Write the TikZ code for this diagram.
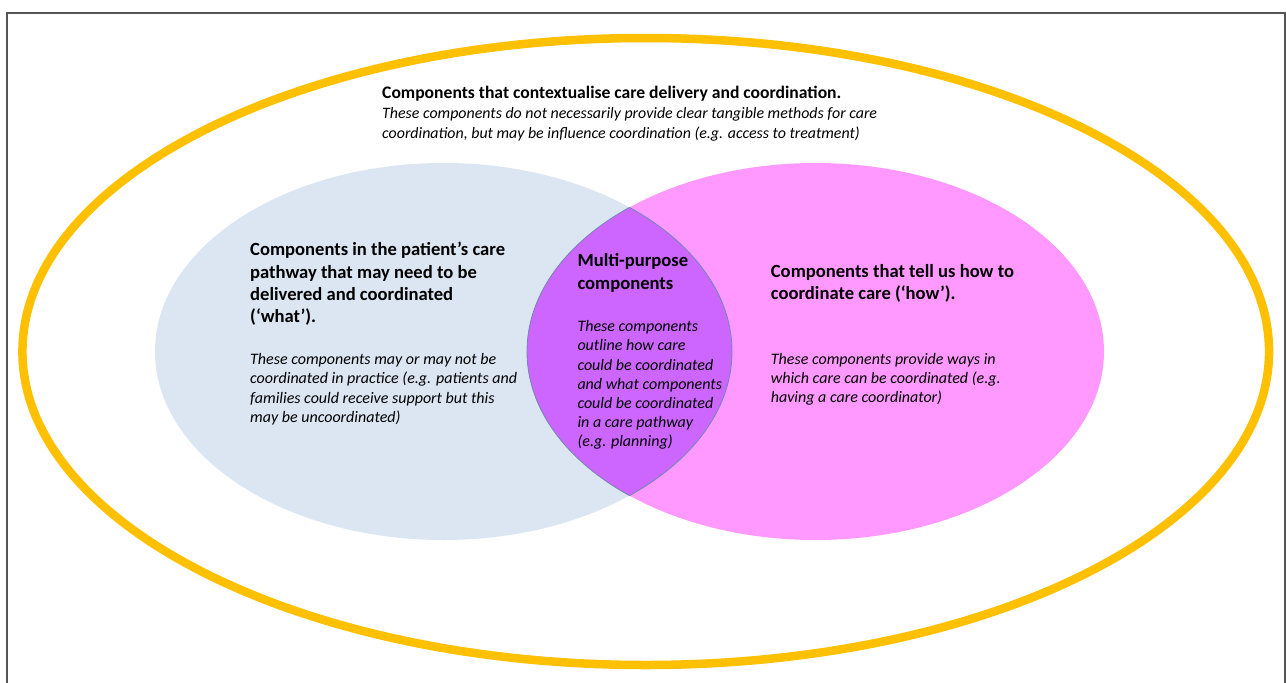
\documentclass[tikz,border=0pt]{standalone}
\usepackage{fontspec}
\setmainfont{Carlito}
\definecolor{ringyellow}{HTML}{FFC000}
\definecolor{whatblue}{HTML}{DCE6F2}
\definecolor{howpink}{HTML}{FF99FF}
\definecolor{lenspurple}{HTML}{CC66FF}
\definecolor{lensline}{HTML}{7088B0}
\definecolor{framegray}{HTML}{555555}
\tikzset{
  % anchor=base west: for a multi-line node this is the baseline of its LAST line
  headtext/.style={font=\bfseries\fontsize{18.6}{22.3}\selectfont, align=left, anchor=base west, inner sep=0pt},
  bodytext/.style={font=\itshape\fontsize{16}{19.4}\selectfont, align=left, anchor=base west, inner sep=0pt},
}
\begin{document}
\begin{tikzpicture}[x=1pt,y=-1pt]
\useasboundingbox (0,0) rectangle (1286,683);
\clip (0,0) rectangle (1286,683);
\fill[white] (0,0) rectangle (1286,683);
% frame
\draw[framegray, line width=1.5pt] (7,700) -- (7,13) -- (1285,13) -- (1285,700);
% outer ring
\draw[ringyellow, line width=8.5pt] (645.75,351.5) ellipse [x radius=623.3, y radius=313.5];
% two sets
\fill[whatblue] (443.5,351.5) ellipse [x radius=288.5, y radius=188.5];
\fill[howpink] (815.5,351.5) ellipse [x radius=288.5, y radius=188.5];
\begin{scope}
  \clip (443.5,351.5) ellipse [x radius=288.5, y radius=188.5];
  \fill[lenspurple] (815.5,351.5) ellipse [x radius=288.5, y radius=188.5];
  \draw[lensline, line width=0.8pt] (815.5,351.5) ellipse [x radius=288.5, y radius=188.5];
\end{scope}
\begin{scope}
  \clip (815.5,351.5) ellipse [x radius=288.5, y radius=188.5];
  \draw[lensline, line width=0.8pt] (443.5,351.5) ellipse [x radius=288.5, y radius=188.5];
\end{scope}
% texts
\node[headtext, font=\bfseries\fontsize{17.6}{20}\selectfont] (ctxhead) at (382,98) {Components that contextualise care delivery and coordination.};
\node[bodytext, font=\itshape\fontsize{15.9}{20}\selectfont] (ctxbody) at (382,138) {These components do not necessarily provide clear tangible methods for care\\coordination, but may be influence coordination (e.g. access to treatment)};
\node[headtext] (whathead) at (250,322.8) {Components in the patient’s care\\pathway that may need to be\\delivered and coordinated\\(‘what’).};
\node[bodytext] (whatbody) at (250,422.6) {These components may or may not be\\coordinated in practice (e.g. patients and\\families could receive support but this\\may be uncoordinated)};
\node[headtext] (multihead) at (577.3,289) {Multi-purpose\\components};
\node[bodytext, font=\itshape\fontsize{16}{19.2}\selectfont] (multibody) at (577.3,446.8) {These components\\outline how care\\could be coordinated\\and what components\\could be coordinated\\in a care pathway\\(e.g. planning)};
\node[headtext, font=\bfseries\fontsize{18.6}{21.7}\selectfont] (howhead) at (770.7,299) {Components that tell us how to\\coordinate care (‘how’).};
\node[bodytext] (howbody) at (770.7,402.8) {These components provide ways in\\which care can be coordinated (e.g.\\having a care coordinator)};
\end{tikzpicture}
\end{document}
